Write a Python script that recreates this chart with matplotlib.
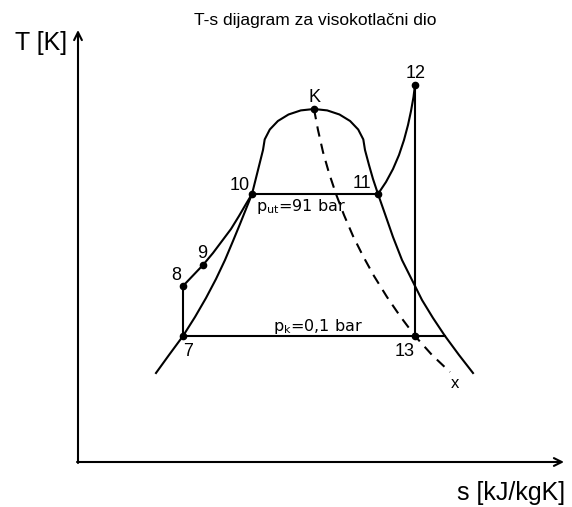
import matplotlib
matplotlib.use("Agg")
import matplotlib.pyplot as plt

# schematic coordinates (s to the right, T measured downward from top of sheet)
dome_s = [156, 169, 183, 195, 206, 216, 225, 233, 240, 246, 252, 257.5, 263,
          264.7, 269.8, 277.9, 288.5, 300.8, 314, 327.2, 339.5, 350.1, 358.2, 363.3, 365,
          369, 373, 378, 385, 393, 402, 412, 422, 433, 445, 459, 473]
dome_T = [373, 355, 336, 317, 298, 279, 260, 241, 224, 209, 194, 172, 150,
          139.4, 129.5, 121, 114.5, 110.4, 109, 110.4, 114.5, 121, 129.5, 139.4, 150,
          165, 179, 194, 214, 237, 260, 280, 300, 318, 336, 355, 373]

heat_s = [203, 213, 222, 231, 239, 246, 252]
heat_T = [265, 253, 241, 229, 216, 204, 194]

super_s = [378, 386, 393, 399, 404, 408, 411, 413.5, 415]
super_T = [194, 182, 169, 155, 140, 125, 111, 97, 85]

x_s = [314, 318, 323, 329, 336, 344, 353, 363, 374, 387, 400, 415, 432, 450]
x_T = [109, 130, 152, 173, 194, 215, 236, 256, 276, 297, 316, 336, 355, 372]

pts = {"K": (314, 109), "12": (415, 85), "10": (252, 194), "11": (378, 194),
       "9": (203, 265), "8": (183, 286), "7": (183, 336), "13": (415, 336)}
lab_pos = {"K": (314, 97), "12": (416, 74), "10": (240, 186), "11": (362, 184),
           "9": (202, 254), "8": (176, 275), "7": (188, 351), "13": (405, 352)}

fig = plt.figure(figsize=(5.72, 5.07), dpi=100)
ax = fig.add_axes([0, 0, 1, 1])
ax.set_xlim(0, 572)
ax.set_ylim(507, 0)
ax.axis("off")

lw = 1.5
k = "black"
ax.plot(dome_s, dome_T, color=k, lw=lw)
ax.plot(heat_s, heat_T, color=k, lw=lw)
ax.plot(super_s, super_T, color=k, lw=lw)
ax.plot(x_s, x_T, color=k, lw=lw, dashes=(5, 3.5))

# process lines
ax.plot([pts["8"][0], pts["9"][0]], [pts["8"][1], pts["9"][1]], color=k, lw=lw)
ax.plot([pts["7"][0], pts["8"][0]], [pts["7"][1], pts["8"][1]], color=k, lw=lw)
ax.plot([pts["10"][0], pts["11"][0]], [pts["10"][1], pts["11"][1]], color=k, lw=lw)
ax.plot([pts["12"][0], pts["13"][0]], [pts["12"][1], pts["13"][1]], color=k, lw=lw)
ax.plot([pts["7"][0], 445], [pts["7"][1], 336], color=k, lw=lw)

for name, (s, T) in pts.items():
    ax.plot(s, T, "o", color=k, ms=4.5)
    lx, ly = lab_pos[name]
    ax.text(lx, ly, name, ha="center", va="center", fontsize=13, family="Liberation Sans")
ax.text(455, 383, "x", ha="center", va="center", fontsize=12, family="Liberation Sans")

cond = ["DejaVu Sans Condensed", "Liberation Sans Narrow", "DejaVu Sans"]
ax.text(256, 207, r"p$_{\mathregular{ut}}$=91 bar", ha="left", va="center", fontsize=11.5, family=cond)
ax.text(273, 326, r"p$_{\mathregular{k}}$=0,1 bar", ha="left", va="center", fontsize=11.5, family=cond)

# axes arrows
ax.annotate("", xy=(78, 30), xytext=(78, 463),
            arrowprops=dict(arrowstyle="->", lw=1.5, color=k, mutation_scale=14, shrinkA=0, shrinkB=0))
ax.annotate("", xy=(564, 462), xytext=(77, 462),
            arrowprops=dict(arrowstyle="->", lw=1.5, color=k, mutation_scale=14, shrinkA=0, shrinkB=0))

ax.text(41, 43, "T [K]", ha="center", va="center", fontsize=18, family="Liberation Sans")
ax.text(511, 493, "s [kJ/kgK]", ha="center", va="center", fontsize=18, family="Liberation Sans")
ax.text(315, 21, "T-s dijagram za visokotlačni dio", ha="center", va="center", fontsize=12.5,
        family="Liberation Sans")

fig.savefig("out.png", dpi=100)
